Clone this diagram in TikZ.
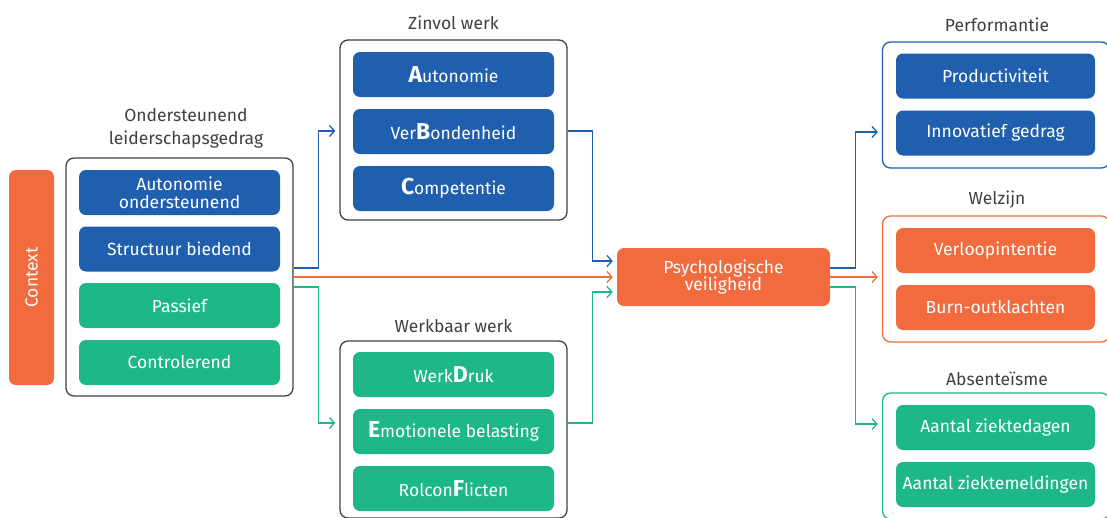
\documentclass[tikz,border=0pt]{standalone}
\usepackage{fontspec}
\setmainfont{Fira Sans}
\usetikzlibrary{arrows.meta}
\definecolor{vgBlue}{HTML}{1F5FAD}
\definecolor{vgGreen}{HTML}{1EB888}
\definecolor{vgOrange}{HTML}{F26B3F}
\definecolor{vgGrey}{HTML}{404040}
\newcommand\kap[1]{{\fontsize{23}{16}\selectfont\bfseries #1}}
\tikzset{
    outer/.style={draw=#1, line width=1.3pt, rounded corners=8pt, minimum width=227pt, inner sep=0pt},
    outer/.default=vgGrey,
    inner/.style={fill=#1, text=white, rounded corners=7pt, minimum width=201pt,
        minimum height=45pt, inner sep=0pt, align=center, font=\fontsize{17.5}{19}\selectfont},
    title/.style={text=vgGrey, align=center, font=\fontsize{17.5}{23}\selectfont},
    link/.style={draw=#1, line width=1.3pt, -{Straight Barb[length=5pt,width=11pt]}, shorten >=4pt},
}

\begin{document}
\begin{tikzpicture}[x=1pt,y=-1pt]
    \useasboundingbox (0,0) rectangle (1107,517);

    %context and leadership:
    \node[fill=vgOrange, rounded corners=7pt, minimum width=45pt, minimum height=215pt] (context) at (31.5,277.5) {};
    \node[rotate=90, text=white, font=\fontsize{17.5}{19}\selectfont] at (context) {Context};

    \node[title] (tLeider) at (186,128) {Ondersteunend\\leiderschapsgedrag};
    \node[outer, minimum height=238pt] (leider) at (179.5,277) {};
    \node[inner=vgBlue]  (autoOnd) at (179.5,192.5) {Autonomie\\[-1pt]ondersteunend};
    \node[inner=vgBlue]  (struct)  at (179.5,249)   {Structuur biedend};
    \node[inner=vgGreen] (passief) at (179.5,305.5) {Passief};
    \node[inner=vgGreen] (control) at (179.5,362.5) {Controlerend};

    %zinvol werk:
    \node[title] (tZinvol) at (453.5,23) {Zinvol werk};
    \node[outer, minimum height=180pt] (zinvol) at (453.5,130) {};
    \node[inner=vgBlue] (auto)    at (453.5,74.5)  {\kap{A}utonomie};
    \node[inner=vgBlue] (verbond) at (453.5,131.5) {Ver\kap{B}ondenheid};
    \node[inner=vgBlue] (compet)  at (453.5,188.5) {\kap{C}ompetentie};

    %werkbaar werk:
    \node[title] (tWerkbaar) at (453.5,326) {Werkbaar werk};
    \node[outer, minimum height=177pt] (werkbaar) at (453.5,429.5) {};
    \node[inner=vgGreen] (druk)   at (453.5,374.5) {Werk\kap{D}ruk};
    \node[inner=vgGreen] (emotie) at (453.5,431.5) {\kap{E}motionele belasting};
    \node[inner=vgGreen] (rol)    at (453.5,488.5) {Rolcon\kap{F}licten};

    %psychologische veiligheid:
    \node[inner=vgOrange, minimum width=213pt, minimum height=58pt] (psych) at (723.5,277) {Psychologische\\[-2pt]veiligheid};

    %outcomes:
    \node[title] (tPerf) at (997,25) {Performantie};
    \node[outer=vgBlue, minimum width=227pt, minimum height=126pt] (perf) at (996,105) {};
    \node[inner=vgBlue, minimum width=199pt] (prod)   at (995.5,76)  {Productiviteit};
    \node[inner=vgBlue, minimum width=199pt] (innov)  at (995.5,133) {Innovatief gedrag};

    \node[title] (tWelzijn) at (997,200) {Welzijn};
    \node[outer=vgOrange, minimum width=227pt, minimum height=126pt] (welzijn) at (996,279) {};
    \node[inner=vgOrange, minimum width=199pt] (verloop) at (995.5,250.5) {Verloopintentie};
    \node[inner=vgOrange, minimum width=199pt] (burnout) at (995.5,307.5) {Burn-outklachten};

    \node[title] (tAbsent) at (997,379) {Absente\"isme};
    \node[outer=vgGreen, minimum width=227pt, minimum height=126pt] (absent) at (996,456) {};
    \node[inner=vgGreen, minimum width=199pt] (dagen)     at (995.5,427.5) {Aantal ziektedagen};
    \node[inner=vgGreen, minimum width=199pt] (meldingen) at (995.5,484.5) {Aantal ziektemeldingen};

    %connectors:
    \draw[link=vgBlue]   ([yshift=9pt]leider.east) -- ++(25,0) |- ([yshift=-1pt]zinvol.west);
    \draw[link=vgOrange] (leider.east) -- (psych.west);
    \draw[link=vgGreen]  ([yshift=-10pt]leider.east) -- ++(25,0) |- ([yshift=6.5pt]werkbaar.west);

    \draw[link=vgBlue]  ([yshift=-1pt]zinvol.east) -- ++(25,0) |- ([yshift=16pt]psych.west);
    \draw[link=vgGreen] ([yshift=6.5pt]werkbaar.east) -- ++(25,0) |- ([yshift=-15pt]psych.west);

    \draw[link=vgBlue]   ([yshift=9pt]psych.east) -- ++(25,0) |- ([yshift=-27pt]perf.west);
    \draw[link=vgOrange] (psych.east) -- (psych.east -| welzijn.west);
    \draw[link=vgGreen]  ([yshift=-10pt]psych.east) -- ++(25,0) |- ([yshift=32pt]absent.west);

\end{tikzpicture}
\end{document}
